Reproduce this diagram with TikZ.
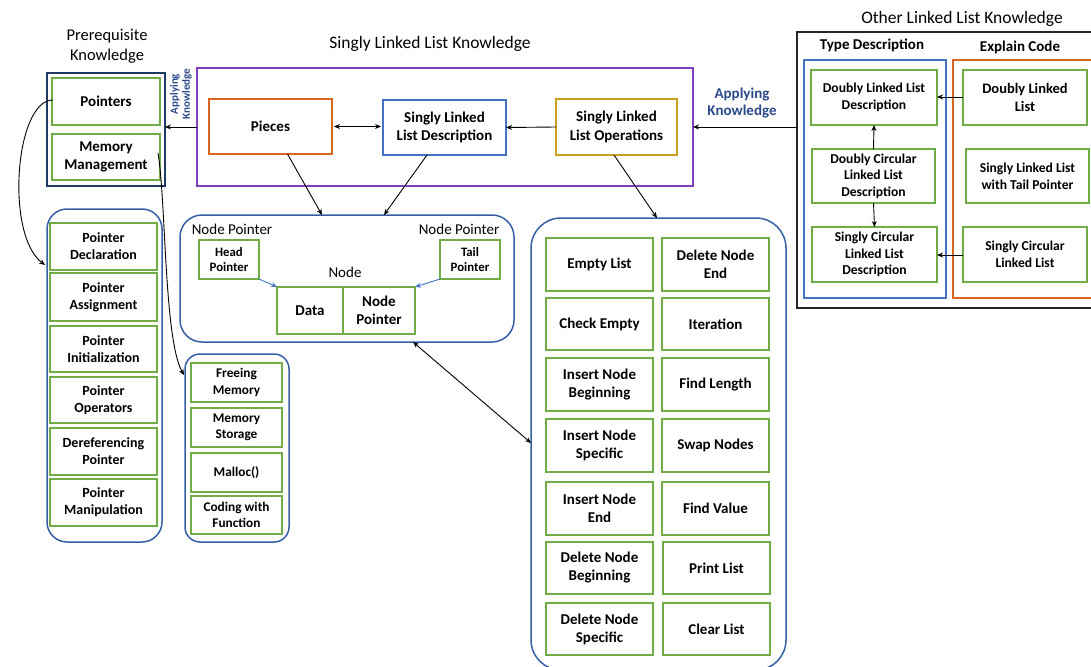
\documentclass[tikz,border=0pt]{standalone}
\usepackage{fontspec}
\setmainfont{Carlito}
\usetikzlibrary{arrows.meta,calc}
\definecolor{cgreen}{HTML}{70AD47}
\definecolor{cblue}{HTML}{4472C4}
\definecolor{crblue}{HTML}{3560A8}
\definecolor{cnavy}{HTML}{203864}
\definecolor{corange}{HTML}{D9651E}
\definecolor{cgold}{HTML}{C9A020}
\definecolor{cpurple}{HTML}{7F3FBF}
\definecolor{ctext}{HTML}{2B4A8B}
\newcommand\mybox[7]{\node[#2, minimum width={(#5-#3)*1pt}, minimum height={(#6-#4)*1pt}] (#1) at ({(#3+#5)/2},{(#4+#6)/2}) {#7};}
\tikzset{
  base/.style={inner sep=0pt, outer sep=0pt, align=center},
  gbox/.style={base, draw=cgreen, line width=1.6pt, font=\bfseries\fontsize{14}{17}\selectfont},
  opsbox/.style={gbox, font=\bfseries\fontsize{15}{18}\selectfont},
  smallbox/.style={gbox, font=\bfseries\fontsize{12.8}{15}\selectfont},
  memitem/.style={gbox, font=\bfseries\fontsize{13.3}{16.5}\selectfont},
  typebox/.style={gbox, font=\bfseries\fontsize{13.6}{16.7}\selectfont},
  topbox/.style={base, line width=1.6pt, font=\bfseries\fontsize{15}{18.5}\selectfont},
  groupbox/.style={base, draw=crblue, line width=1.5pt},
  title/.style={inner sep=0pt, align=center, font=\fontsize{17.5}{20}\selectfont},
  lbl/.style={inner sep=0pt, align=center, font=\fontsize{15}{18}\selectfont},
  arr/.style={-{Stealth[length=6pt,width=5pt]}, line width=0.9pt},
  darr/.style={{Stealth[length=6pt,width=5pt]}-{Stealth[length=6pt,width=5pt]}, line width=0.9pt},
  barr/.style={-{Stealth[length=6pt,width=5pt]}, line width=0.9pt, draw=cblue},
}
\begin{document}
\begin{tikzpicture}[x=1pt,y=-1pt]
\useasboundingbox[fill=white] (0,0) rectangle (1091,666);

% titles
\node[title, font=\fontsize{16.5}{20}\selectfont] (tprereq) at (107,46) {Prerequisite\\Knowledge};
\node[title] (tsll) at (430,44) {Singly Linked List Knowledge};
\node[title] (tother) at (962,19) {Other Linked List Knowledge};

% prerequisite
\mybox{prereq}{base, draw=cnavy, line width=2pt}{47}{73}{165}{186}{}
\mybox{pointers}{gbox, font=\bfseries\fontsize{15}{18.5}\selectfont}{52}{78}{160}{125}{Pointers}
\mybox{memmgmt}{gbox, font=\bfseries\fontsize{15}{18.5}\selectfont}{52}{134}{160}{180}{Memory\\Management}

% singly linked list knowledge
\mybox{purple}{base, draw=cpurple, line width=2pt}{197}{68}{693}{186}{}
\mybox{pieces}{topbox, draw=corange}{209}{99}{332}{154}{Pieces}
\mybox{sldesc}{topbox, draw=cblue}{383}{100}{506}{155}{Singly Linked\\List Description}
\mybox{slops}{topbox, draw=cgold}{556}{99}{677}{155}{Singly Linked\\List Operations}

\node[rotate=90, inner sep=0pt, align=center, text=ctext, font=\bfseries\fontsize{11}{12}\selectfont] (ak1) at (181,94) {Applying\\Knowledge};
\node[inner sep=0pt, align=center, text=ctext, font=\bfseries\fontsize{15}{17}\selectfont] (ak2) at (742,103) {Applying\\Knowledge};

% other linked list knowledge
\mybox{other}{base, draw=black!85, line width=1.5pt}{797}{32}{1100}{308}{}
\mybox{typegrp}{base, draw=cblue, line width=1.5pt}{804}{60}{946}{298}{}
\mybox{codegrp}{base, draw=corange, line width=1.5pt}{953}{60}{1110}{298}{}
\node[inner sep=0pt, font=\bfseries\fontsize{15}{18}\selectfont] (ttype) at (872,45) {Type Description};
\node[inner sep=0pt, font=\bfseries\fontsize{15}{18}\selectfont] (tcode) at (1020,47) {Explain Code};
\mybox{dlldesc}{typebox}{811}{70}{937}{125}{Doubly Linked List\\Description}
\mybox{dclldesc}{typebox}{812}{149}{935}{203}{Doubly Circular\\Linked List\\Description}
\mybox{sclldesc}{typebox}{812}{227}{937}{282}{Singly Circular\\Linked List\\Description}
\mybox{dllcode}{gbox, font=\bfseries\fontsize{14.5}{17.5}\selectfont}{963}{70}{1087}{125}{Doubly Linked\\List}
\mybox{slltail}{typebox}{966}{149}{1089}{203}{Singly Linked List\\with Tail Pointer}
\mybox{scllcode}{typebox}{963}{227}{1087}{282}{Singly Circular\\Linked List}

% node box
\mybox{nodebox}{groupbox, rounded corners=22pt}{180}{215}{514}{342}{}
\node[lbl] (np1) at (232,229) {Node Pointer};
\node[lbl] (np2) at (459,229) {Node Pointer};
\node[lbl] (nodelbl) at (345,272) {Node};
\mybox{head}{smallbox}{199}{240}{259}{279}{Head\\Pointer}
\mybox{tail}{smallbox}{440}{240}{500}{279}{Tail\\Pointer}
\mybox{data}{opsbox}{277}{287}{343}{334}{Data}
\mybox{nptr}{opsbox}{343}{287}{415}{334}{Node\\Pointer}

% operations
\mybox{opsgrp}{groupbox, rounded corners=30pt}{531}{218}{786}{670}{}
\mybox{o1}{opsbox}{546}{238}{653}{291}{Empty List}
\mybox{o2}{opsbox}{546}{298}{653}{350}{Check Empty}
\mybox{o3}{opsbox}{546}{358}{653}{411}{Insert Node\\Beginning}
\mybox{o4}{opsbox}{546}{419}{653}{472}{Insert Node\\Specific}
\mybox{o5}{opsbox}{546}{482}{653}{535}{Insert Node\\End}
\mybox{o6}{opsbox}{546}{542}{653}{594}{Delete Node\\Beginning}
\mybox{o7}{opsbox}{546}{603}{653}{655}{Delete Node\\Specific}
\mybox{p1}{opsbox}{662}{238}{769}{291}{Delete Node\\End}
\mybox{p2}{opsbox}{662}{298}{769}{350}{Iteration}
\mybox{p3}{opsbox}{662}{358}{769}{411}{Find Length}
\mybox{p4}{opsbox}{662}{419}{769}{472}{Swap Nodes}
\mybox{p5}{opsbox}{662}{482}{769}{535}{Find Value}
\mybox{p6}{opsbox}{663}{542}{770}{594}{Print List}
\mybox{p7}{opsbox}{663}{603}{770}{655}{Clear List}

% pointer list
\mybox{ptrgrp}{groupbox, rounded corners=20pt}{47}{209}{162}{542}{}
\mybox{q1}{gbox}{50}{223}{157}{270}{Pointer\\Declaration}
\mybox{q2}{gbox}{50}{273}{157}{321}{Pointer\\Assignment}
\mybox{q3}{gbox}{50}{326}{157}{372}{Pointer\\Initialization}
\mybox{q4}{gbox}{50}{377}{157}{423}{Pointer\\Operators}
\mybox{q5}{gbox}{50}{428}{157}{475}{Dereferencing\\Pointer}
\mybox{q6}{gbox}{50}{479}{157}{526}{Pointer\\Manipulation}

% memory list
\mybox{memgrp}{groupbox, rounded corners=15pt}{185}{354}{289}{542}{}
\mybox{m1}{memitem}{191}{363}{282}{402}{Freeing\\Memory}
\mybox{m2}{memitem}{191}{408}{282}{447}{Memory\\Storage}
\mybox{m3}{memitem}{191}{453}{282}{492}{Malloc()}
\mybox{m4}{memitem}{191}{496}{282}{534}{Coding with\\Function}

% coordinates for connector ends
\coordinate (y127) at (0,127);
\coordinate (y265) at (0,265);
\coordinate (y375) at (0,375);
\coordinate (y97) at (0,97);
\coordinate (y255) at (0,255);

% connectors
\draw[arr] (purple.west |- y127) -- (prereq.east |- y127);
\draw[arr] (other.west |- y127) -- (purple.east |- y127);
\draw[darr] ([xshift=2pt]pieces.east) -- ([xshift=-2pt]sldesc.west |- pieces.east);
\draw[arr] (slops.west) -- (sldesc.east);
\draw[arr] ([xshift=17pt]pieces.south) -- ([xshift=-25pt]nodebox.north);
\draw[arr] ([xshift=-17.5pt]sldesc.south) -- ([xshift=37pt]nodebox.north);
\draw[arr] ([xshift=-2.5pt]slops.south) -- ([xshift=-1.5pt]opsgrp.north);
\draw[darr] ([xshift=66pt]nodebox.south) -- ([yshift=1pt]opsgrp.west);
\draw[barr] (head.south east) -- (data.north west);
\draw[barr] (tail.south west) -- (nptr.north east);
\draw[arr] (dllcode.west |- y97) -- (dlldesc.east |- y97);
\draw[arr] (scllcode.west |- y255) -- (sclldesc.east |- y255);
\draw[arr] (dclldesc.north) -- (dlldesc.south);
\draw[arr] (dclldesc.south) -- (sclldesc.north);
\draw[arr] ([xshift=1pt,yshift=1.5pt]pointers.west) .. controls (15,100) and (5,235) .. ([xshift=-2pt]ptrgrp.west |- y265);
\draw[arr] ([xshift=-2pt,yshift=4pt]memmgmt.east) .. controls (166,200) and (164,340) .. ([xshift=-1pt]memgrp.west |- y375);
\end{tikzpicture}
\end{document}
